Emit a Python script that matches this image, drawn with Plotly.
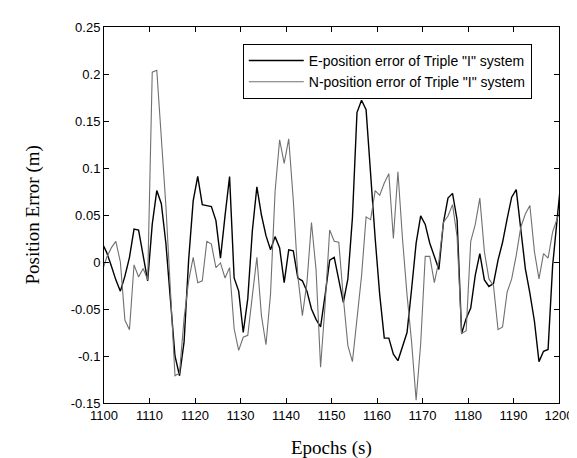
import plotly.graph_objects as go

# sample epochs (s): samples fall about 0.4 s before each whole second
epochs = [1099.6 + i for i in range(102)]

e_err = [0.020, 0.010, -0.004, -0.019, -0.031, -0.015, 0.005, 0.035, 0.034, 0.006,
         -0.020, 0.040, 0.076, 0.062, 0.020, -0.040, -0.100, -0.121, -0.085, 0.002,
         0.065, 0.091, 0.061, 0.060, 0.059, 0.044, 0.004, 0.049, 0.091, -0.017,
         -0.031, -0.075, -0.039, 0.033, 0.080, 0.050, 0.028, 0.013, 0.027, 0.015,
         -0.022, 0.013, 0.012, -0.017, -0.020, -0.031, -0.050, -0.061, -0.069, -0.035,
         0.002, 0.005, -0.018, -0.043, -0.018, 0.047, 0.159, 0.172, 0.162, 0.090,
         0.025, -0.035, -0.081, -0.081, -0.098, -0.105, -0.091, -0.075, -0.029, 0.020,
         0.049, 0.040, 0.020, 0.005, -0.008, 0.042, 0.068, 0.073, 0.045, -0.076,
         -0.060, -0.049, -0.014, 0.009, -0.019, -0.026, -0.023, 0.002, 0.021, 0.046,
         0.069, 0.077, 0.037, -0.007, -0.033, -0.063, -0.106, -0.095, -0.093, -0.004,
         0.046, 0.095]

n_err = [-0.010, 0.005, 0.015, 0.022, 0.000, -0.062, -0.072, -0.003, -0.016, -0.007,
         -0.019, 0.202, 0.204, 0.130, 0.060, -0.030, -0.121, -0.118, -0.060, -0.020,
         0.005, -0.022, -0.020, 0.022, 0.019, -0.006, -0.001, -0.017, -0.006, -0.071,
         -0.094, -0.080, -0.078, -0.036, 0.005, -0.057, -0.088, -0.034, 0.075, 0.130,
         0.105, 0.131, 0.066, -0.015, -0.057, -0.022, 0.042, -0.008, -0.112, -0.045,
         0.034, 0.022, 0.021, -0.038, -0.089, -0.106, -0.060, -0.015, 0.048, 0.045,
         0.076, 0.071, 0.084, 0.094, 0.025, 0.096, 0.025, -0.035, -0.085, -0.147,
         -0.087, 0.006, 0.006, -0.022, 0.001, 0.042, 0.049, 0.061, 0.027, -0.076,
         -0.073, 0.022, 0.040, 0.068, 0.011, -0.018, -0.025, -0.072, -0.069, -0.032,
         -0.018, 0.007, 0.037, 0.051, 0.060, 0.011, -0.018, 0.009, 0.004, 0.032,
         0.046, 0.060]

x_ticks = list(range(1100, 1201, 10))
y_ticks = [-0.15, -0.1, -0.05, 0, 0.05, 0.1, 0.15, 0.2, 0.25]
y_labels = ["-0.15", "-0.1", "-0.05", "0", "0.05", "0.1", "0.15", "0.2", "0.25"]

names = ['E-position error of Triple "I" system', 'N-position error of Triple "I" system']

narrow = "Liberation Sans Narrow, Arial Narrow, Liberation Sans, Arial"
tick_font = dict(family=narrow, size=13, color="black")
serif = "Liberation Serif, Times New Roman, serif"

fig = go.Figure()
fig.add_trace(go.Scatter(x=epochs, y=e_err, mode="lines", name=names[0],
                         line=dict(color="black", width=1.4)))
fig.add_trace(go.Scatter(x=epochs, y=n_err, mode="lines", name=names[1],
                         line=dict(color="#707070", width=1.1)))

axis_common = dict(showline=True, linecolor="black", linewidth=1, mirror="ticks",
                   ticks="inside", ticklen=5, tickcolor="black", showgrid=False,
                   zeroline=False, tickfont=tick_font)

fig.update_layout(
    width=577, height=458,
    margin=dict(l=96, r=17, t=16, b=63),
    plot_bgcolor="white", paper_bgcolor="white",
    showlegend=True,
    legend=dict(x=0.305, y=0.955, xanchor="left", yanchor="top",
                bgcolor="white", bordercolor="black", borderwidth=1,
                font=dict(family=narrow, size=14, color="black"),
                tracegroupgap=0, itemwidth=55),
    xaxis=dict(range=[1100, 1200], tickvals=x_ticks, **axis_common),
    yaxis=dict(range=[-0.15, 0.25], tickvals=y_ticks, ticktext=y_labels, **axis_common),
    annotations=[
        dict(text="Epochs (s)", xref="paper", yref="paper", x=0.5, y=-0.12,
             xanchor="center", yanchor="middle", showarrow=False,
             font=dict(family=serif, size=19, color="black")),
        dict(text="Position Error (m)", xref="paper", yref="paper", x=-0.155, y=0.5,
             xanchor="center", yanchor="middle", showarrow=False, textangle=-90,
             font=dict(family=serif, size=19, color="black")),
    ],
)

fig.write_html("out.html")
